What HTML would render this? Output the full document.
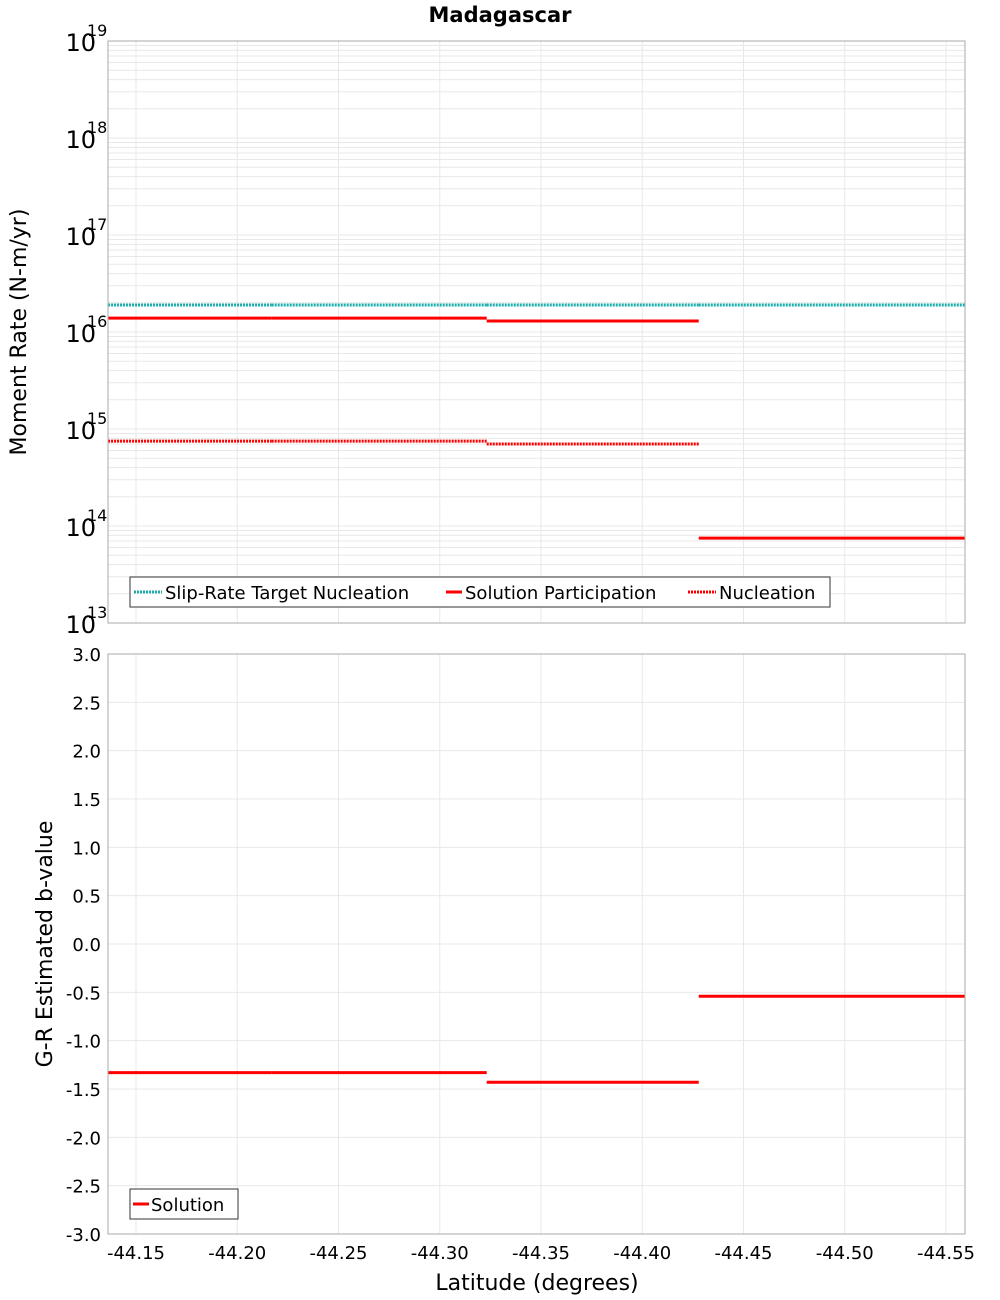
<!DOCTYPE html>
<html><head><meta charset="utf-8"><style>
body{margin:0;background:#fff;}
svg{display:block;font-family:"DejaVu Sans","Liberation Sans",sans-serif;}
</style></head><body>
<svg id="c" width="1000" height="1300">
<text x="500" y="22" text-anchor="middle" font-size="21" font-weight="bold">Madagascar</text>
<g id="grid"></g>
<g id="marks"></g>
<g id="axes"></g>
</svg>
<script>
const xEdges=[-44.1362,-44.217,-44.3232,-44.4279,-44.5594];
const targetNucl=[1.9e16,1.9e16,1.9e16,1.9e16];
const solPart=[1.39e16,1.39e16,1.3e16,7.5e13];
const nucl=[7.5e14,7.5e14,7.0e14,null];
const bVals=[-1.33,-1.33,-1.43,-0.54];
const xTicks=[-44.15,-44.2,-44.25,-44.3,-44.35,-44.4,-44.45,-44.5,-44.55];
const logTicks=[13,14,15,16,17,18,19];
const bTicks=[3,2.5,2,1.5,1,0.5,0,-0.5,-1,-1.5,-2,-2.5,-3];

const NS='http://www.w3.org/2000/svg';
const L=108,R=965,T1=41,B1=623,T2=654,B2=1234;
const X=v=>136+(v+44.15)/(-0.4)*810;
const Y1=v=>B1-(Math.log10(v)-13)/6*(B1-T1);
const Y2=v=>T2+(3-v)/6*(B2-T2);
function mk(p,tag,a){const e=document.createElementNS(NS,tag);for(const k in a)e.setAttribute(k,a[k]);p.appendChild(e);return e;}
const grid=document.getElementById('grid'),marks=document.getElementById('marks'),axes=document.getElementById('axes');

for(let d=13;d<19;d++)for(let m=1;m<10;m++){const y=Y1(m*Math.pow(10,d));
 const g=mk(grid,'line',{x1:L,x2:R,y1:y,y2:y,stroke:'#e8e8e8','stroke-width':1});
 
 }
xTicks.forEach(t=>{[[T1,B1],[T2,B2]].forEach(([a,b])=>{
 const g=mk(grid,'line',{x1:X(t),x2:X(t),y1:a,y2:b,stroke:'#e8e8e8','stroke-width':1});
 
 });});
bTicks.forEach(t=>{const g=mk(grid,'line',{x1:L,x2:R,y1:Y2(t),y2:Y2(t),stroke:'#e8e8e8','stroke-width':1});
 
 });

function series(vals,Y,color,dash,name){
 for(let i=0;i<vals.length;i++){if(vals[i]==null)continue;
  const a={x1:X(xEdges[i]),x2:X(xEdges[i+1]),y1:Y(vals[i]),y2:Y(vals[i]),stroke:color,'stroke-width':3};
  if(dash)a['stroke-dasharray']='2,1';
  const e=mk(marks,'line',a);
  
  }}
series(targetNucl,Y1,'#1aadad',true,'target-nucleation-segment');
series(solPart,Y1,'#ff0000',false,'solution-participation-segment');
series(nucl,Y1,'#ff0000',true,'nucleation-segment');
series(bVals,Y2,'#ff0000',false,'b-value-segment');

[[T1,B1,'top-plot-frame'],[T2,B2,'bottom-plot-frame']].forEach(([a,b,n])=>{
 const r=mk(axes,'rect',{x:L,y:a,width:R-L,height:b-a,fill:'none',stroke:'#aaa','stroke-width':1});
 
 });

logTicks.forEach(t=>{const y=Y1(Math.pow(10,t));
 const e=mk(axes,'text',{x:96,y:y+10,'text-anchor':'end','font-size':24});
 e.textContent='10';
 
 
 const s=mk(axes,'text',{x:87,y:y-5,'font-size':16});s.textContent=String(t);
 
 });
bTicks.forEach(t=>{const e=mk(axes,'text',{x:101,y:Y2(t)+7,'text-anchor':'end','font-size':18});
 e.textContent=t.toFixed(1);
 
 });
xTicks.forEach(t=>{const e=mk(axes,'text',{x:X(t),y:1259,'text-anchor':'middle','font-size':18});
 e.textContent=t.toFixed(2);
 
 });
</script>
<svg style="position:absolute;left:0;top:0" width="1000" height="1300" font-family="DejaVu Sans, Liberation Sans, sans-serif">
<text transform="translate(26,332) rotate(-90)" text-anchor="middle" font-size="22">Moment Rate (N-m/yr)</text>
<text transform="translate(52,944) rotate(-90)" text-anchor="middle" font-size="22">G-R Estimated b-value</text>
<text x="537" y="1290" text-anchor="middle" font-size="22">Latitude (degrees)</text>
<g>
<rect x="130" y="577" width="700" height="30" fill="#fff" stroke="#333"/>
<line x1="134" x2="162" y1="592" y2="592" stroke="#1aadad" stroke-width="3" stroke-dasharray="2,1"/>
<text x="165" y="599" font-size="18">Slip-Rate Target Nucleation</text>
<line x1="446" x2="462" y1="592" y2="592" stroke="#f00" stroke-width="3"/>
<text x="465" y="599" font-size="18">Solution Participation</text>
<line x1="688" x2="716" y1="592" y2="592" stroke="#f00" stroke-width="3" stroke-dasharray="2,1"/>
<text x="719" y="599" font-size="18">Nucleation</text>
</g>
<g>
<rect x="130" y="1189" width="108" height="30" fill="#fff" stroke="#333"/>
<line x1="133" x2="149" y1="1204" y2="1204" stroke="#f00" stroke-width="3"/>
<text x="151" y="1211" font-size="18">Solution</text>
</g>
</svg>
</body></html>
